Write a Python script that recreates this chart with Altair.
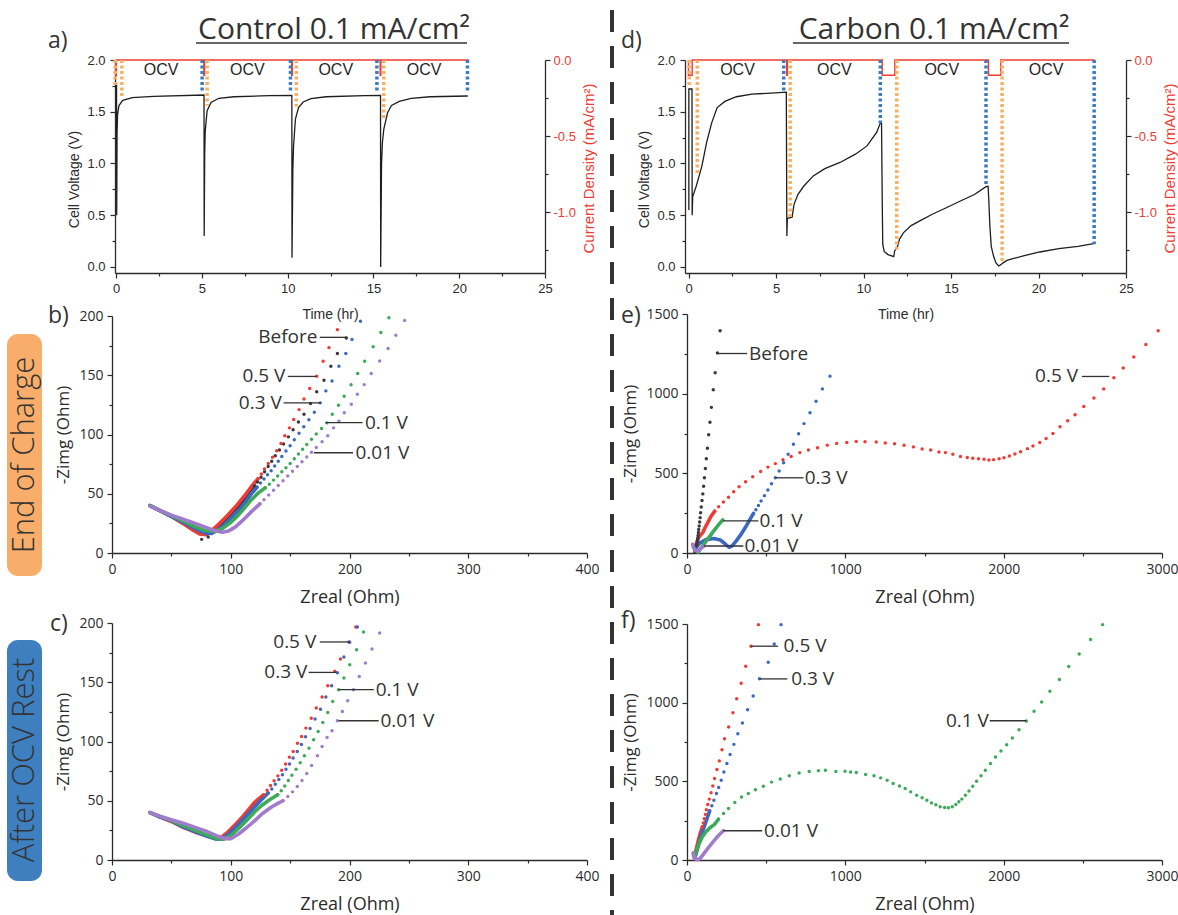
import altair as alt
import pandas as pd

# ============================================================ DATA
# ---- (a) Control 0.1 mA/cm2 : cell voltage (V) vs time (hr)
a_time = [0.02, 0.03, 0.05, 0.08, 0.16, 0.38, 0.94, 2.17, 5.12,
          5.13, 5.16, 5.19, 5.30, 5.53, 5.98, 6.87, 8.89, 10.24,
          10.25, 10.30, 10.34, 10.45, 10.63, 10.90, 11.35, 12.24, 14.48, 15.41,
          15.42, 15.47, 15.52, 15.60, 15.82, 16.05, 16.50, 17.20, 18.30, 20.50]
a_volt = [1.78, 0.50, 1.30, 1.47, 1.56, 1.61, 1.636, 1.649, 1.662,
          0.30, 1.10, 1.31, 1.51, 1.59, 1.63, 1.645, 1.655, 1.658,
          0.09, 0.95, 1.17, 1.43, 1.54, 1.594, 1.626, 1.645, 1.655, 1.658,
          0.00, 1.00, 1.20, 1.33, 1.49, 1.56, 1.60, 1.63, 1.645, 1.652]
a_cur_time = [-0.03, -0.03, 0.01, 0.01, 5.11, 5.11, 5.15, 5.15, 10.23, 10.23,
              10.27, 10.27, 15.39, 15.39, 15.43, 15.43, 20.55]
a_cur = [0, -0.1, -0.1, 0, 0, -0.1, -0.1, 0, 0, -0.1, -0.1, 0, 0, -0.1, -0.1, 0, 0]
a_blue_time = [5.01, 10.16, 15.20, 20.48]
a_blue_volt = [1.68, 1.68, 1.68, 1.68]
a_orange_time = [-0.06, 0.33, 5.30, 10.50, 15.60]
a_orange_volt = [1.75, 1.63, 1.56, 1.55, 1.42]
a_ocv_time = [2.62, 7.65, 12.80, 17.95]

# ---- (d) Carbon 0.1 mA/cm2
d_time = [0.02, 0.02, 0.20, 0.21, 0.24, 0.44, 0.77, 1.03, 1.32, 1.64, 2.08, 2.74, 3.62, 4.71, 5.59,
          5.62, 5.65, 5.92, 6.03, 6.25, 6.58, 7.13, 7.79, 8.66, 9.54, 10.20, 10.75, 10.96, 11.03,
          11.07, 11.10, 11.18, 11.40, 11.73, 11.78, 11.95, 12.06, 12.28, 12.72, 13.27, 13.93,
          14.70, 15.57, 16.34, 17.00, 17.12,
          17.16, 17.22, 17.30, 17.43, 17.57, 17.72, 17.83, 17.98, 18.20, 18.53, 19.19, 20.07,
          21.16, 22.26, 23.14]
d_volt = [0.55, 1.72, 1.72, 0.50, 0.68, 0.78, 0.98, 1.20, 1.39, 1.54, 1.60, 1.645, 1.67, 1.68, 1.69,
          0.30, 0.47, 0.48, 0.605, 0.70, 0.78, 0.88, 0.95, 1.01, 1.09, 1.17, 1.30, 1.39, 1.39,
          0.65, 0.22, 0.15, 0.12, 0.10, 0.155, 0.20, 0.27, 0.33, 0.40, 0.45, 0.51,
          0.57, 0.64, 0.70, 0.776, 0.78,
          0.65, 0.40, 0.20, 0.106, 0.04, 0.01, 0.02, 0.04, 0.064, 0.08, 0.11, 0.145,
          0.177, 0.20, 0.225]
d_cur_time = [0.0, 0.0, 0.21, 0.21, 5.61, 5.61, 5.65, 5.65, 11.07, 11.07, 11.79, 11.79,
              17.14, 17.14, 17.84, 17.84, 23.20]
d_cur = [0, -0.1, -0.1, 0, 0, -0.1, -0.1, 0, 0, -0.1, -0.1, 0, 0, -0.1, -0.1, 0, 0]
d_blue_time = [5.44, 10.96, 17.00, 23.18]
d_blue_volt = [1.69, 1.39, 0.78, 0.22]
d_orange_time = [0.04, 0.50, 5.81, 11.90, 17.92]
d_orange_volt = [1.75, 0.90, 0.48, 0.17, 0.04]
d_ocv_time = [2.80, 8.33, 14.47, 20.44]

# ---- (b) Control, end of charge : Nyquist (Zreal, -Zimg) in Ohm
b_before_x = [197.3, 189.8, 184.3, 178.5, 172.4, 167.2, 161.7, 157.0, 152.5, 148.5, 144.5, 141.0,
              137.5, 134.5, 131.5, 128.5, 125.5, 122.5, 120.0, 81.0, 75.5]
b_before_y = [181.5, 168.3, 157.6, 145.8, 136.0, 126.1, 117.1, 110.5, 104.0, 98.0, 92.0, 87.0,
              82.0, 77.5, 73.0, 68.5, 64.0, 60.0, 56.5, 13.5, 11.5]
b_05_x = [189.8, 182.7, 177.8, 172.4, 166.5, 161.7, 157.5, 153.0, 149.4, 145.5, 142.3, 138.7,
          135.2, 131.6, 128.4, 125.8, 122.9]
b_05_y = [188.5, 173.3, 161.8, 149.2, 138.8, 130.0, 121.0, 112.6, 105.6, 98.9, 92.4, 86.2,
          80.9, 75.6, 70.8, 66.6, 62.6]
b_03_x = [209.2, 202.1, 196.9, 191.1, 185.3, 180.1, 175.3, 170.4, 165.8, 161.5, 157.5, 153.5,
          150.0, 146.5, 143.0, 140.0, 137.0, 134.0, 131.0, 128.0, 125.0, 122.0]
b_03_y = [195.5, 180.1, 168.3, 157.6, 145.2, 136.8, 126.7, 118.8, 112.5, 106.5, 101.0, 95.5,
          90.5, 86.0, 81.5, 77.5, 73.5, 69.5, 66.0, 62.5, 59.0, 55.5]
b_01_x = [233.2, 226.4, 219.9, 212.8, 206.9, 201.3, 195.5, 190.7, 185.5, 180.9, 176.5, 172.0,
          168.0, 164.0, 160.5, 157.0, 153.5, 150.0, 146.5, 143.0, 139.5, 136.0, 132.5, 129.0]
b_01_y = [198.6, 186.0, 174.0, 161.8, 151.4, 142.0, 132.3, 124.7, 117.0, 109.8, 105.0, 100.5,
          96.0, 91.5, 87.5, 83.5, 79.5, 75.5, 72.0, 68.5, 65.0, 61.5, 58.0, 55.0]
b_001_x = [246.4, 239.0, 232.5, 225.4, 218.3, 212.4, 206.6, 201.5, 195.6, 191.1, 186.6, 181.7,
           176.9, 172.0, 168.0, 164.0, 160.0, 156.0, 152.0, 148.0, 144.0, 140.0, 136.0, 132.0,
           128.0, 124.5]
b_001_y = [196.3, 183.7, 172.5, 162.1, 151.4, 142.1, 134.0, 125.6, 118.3, 111.2, 105.6, 98.9,
           93.8, 89.0, 85.0, 81.0, 77.0, 73.0, 69.0, 65.0, 61.0, 57.0, 53.0, 49.0, 45.0, 41.5]
# dense (high-frequency) part of each spectrum
b_before_dense_x = [32, 40, 50, 60, 68, 74, 80, 86, 93, 100, 107, 114, 120]
b_before_dense_y = [40, 36, 31, 25, 20, 16.5, 16, 20, 26, 33, 40.5, 49, 56.5]
b_05_dense_x = [32, 40, 50, 60, 68, 74, 79, 84, 90, 97, 104, 111, 117, 122.9]
b_05_dense_y = [40, 36, 31, 25, 19.5, 16, 15.5, 19, 24.5, 31.5, 39, 47.5, 55.5, 62.6]
b_03_dense_x = [32, 40, 50, 60, 70, 78, 84, 90, 97, 104, 111, 117, 122]
b_03_dense_y = [40, 36, 31, 26, 20.5, 17, 16.5, 20, 26, 33, 41, 49.5, 55.5]
b_01_dense_x = [32, 40, 50, 60, 70, 78, 86, 92, 99, 106, 112, 117.4, 123, 129]
b_01_dense_y = [40, 36, 31.5, 27, 22, 19, 18.3, 20, 25, 31.5, 38.5, 45, 50.5, 55]
b_001_dense_x = [32, 40, 50, 60, 70, 78, 86, 93, 98, 104, 110, 117, 124.5]
b_001_dense_y = [39.5, 36, 32, 28.5, 25, 22, 19, 17.5, 18.5, 22, 27.5, 34.5, 41.5]
b_label_text = ["Before", "0.5 V", "0.3 V", "0.1 V", "0.01 V"]
b_label_x = [173, 146, 143, 213, 205]
b_label_y = [182, 149, 126.7, 110, 84.6]
b_label_side = ["right", "right", "right", "left", "left"]
b_leader_x1 = [175, 148, 144.5, 180, 170]
b_leader_x2 = [198, 172, 176, 211, 203]

# ---- (c) Control, after OCV rest
c_05_x = [205.3, 199.5, 192.4, 187.6, 181.7, 176.9, 172.0, 167.8, 163.3, 159.7, 156.2, 152.6,
          149.4, 146.2, 142.9, 139.7, 136.5, 133.5, 130.6, 127.7]
c_05_y = [196.6, 183.9, 169.6, 159.2, 147.0, 137.5, 128.2, 119.7, 111.3, 104.2, 98.6, 91.5,
          86.8, 81.1, 75.8, 71.0, 66.8, 62.8, 58.9, 54.9]
c_03_x = [206.6, 200.2, 195.3, 189.8, 185.0, 180.1, 175.6, 171.0, 166.8, 163.0, 159.5, 156.0,
          152.5, 149.5, 146.5, 143.5, 140.5, 137.5, 134.5, 131.5]
c_03_y = [196.6, 183.7, 171.3, 158.0, 147.0, 137.5, 127.3, 118.9, 111.0, 104.0, 97.5, 91.5,
          86.0, 81.0, 76.5, 72.0, 68.0, 64.0, 60.0, 56.5]
c_01_x = [211.8, 206.0, 200.2, 195.3, 190.8, 185.9, 181.7, 177.5, 173.6, 169.8, 165.9, 162.0,
          158.5, 155.0, 151.5, 148.5, 145.5, 142.5, 139.5]
c_01_y = [192.4, 177.5, 164.8, 153.5, 143.7, 133.8, 124.5, 116.1, 108.5, 101.4, 94.4, 88.0,
          82.0, 76.5, 71.5, 67.0, 62.5, 58.5, 55.0]
c_001_x = [225.4, 218.9, 213.4, 208.2, 203.4, 198.5, 194.0, 189.8, 185.3, 181.1, 176.9, 173.0,
           168.1, 164.0, 160.0, 156.0, 152.0, 148.0, 144.0]
c_001_y = [191.5, 178.0, 166.2, 154.9, 143.7, 134.4, 125.4, 117.5, 109.0, 103.4, 95.8, 87.9,
           79.7, 73.0, 67.0, 62.0, 57.5, 53.5, 50.0]
c_05_dense_x = [32, 40, 50, 60, 70, 80, 87, 92, 97, 103, 110, 115, 120, 124, 127.7]
c_05_dense_y = [40, 36.5, 32.5, 27.5, 23.5, 20.5, 18.5, 19, 23, 29, 36.5, 42.5, 48.5, 52, 54.9]
c_03_dense_x = [32, 40, 50, 60, 70, 80, 88, 93, 99, 106, 113, 119, 125, 131.5]
c_03_dense_y = [40, 36.5, 33, 28, 24, 20, 17.5, 18, 22.5, 29.5, 37, 43.5, 50, 56.5]
c_01_dense_x = [32, 40, 50, 60, 70, 80, 88, 94, 100, 107, 114, 120, 126, 133, 139.5]
c_01_dense_y = [40, 37, 33.5, 29, 25, 21, 18, 17.5, 20.5, 27, 34, 40.5, 46, 51, 55]
c_001_dense_x = [32, 40, 50, 60, 70, 80, 88, 95, 100, 106, 113, 120, 127, 134, 140, 144]
c_001_dense_y = [40, 37, 34, 31, 27.5, 24, 20.5, 18, 18, 21.5, 27, 33, 39.5, 44.5, 48, 50]
c_label_text = ["0.5 V", "0.3 V", "0.1 V", "0.01 V"]
c_label_x = [172, 164.5, 222, 226]
c_label_y = [184, 158.3, 143.7, 117.5]
c_label_side = ["right", "right", "left", "left"]
c_leader_x1 = [175, 165.6, 190.8, 190.8]
c_leader_x2 = [200, 189, 220.5, 224.6]

# ---- (e) Carbon, end of charge
e_before_x = [209, 192, 178, 166, 154, 145, 137, 129, 122, 116, 110, 105, 100, 95, 90, 86, 83,
              80, 77, 74, 72, 70, 68, 66, 64, 62, 60]
e_before_y = [1395, 1256, 1131, 1024, 914, 820, 742, 657, 592, 531, 472, 419, 371, 329, 289,
              253, 222, 195, 170, 148, 128, 110, 94, 80, 67, 55, 45]
e_05_x = [175, 200, 230, 262, 295, 329, 370, 415, 465, 511, 558, 606, 658, 713, 767, 824, 886,
          945, 1009, 1069, 1124, 1195, 1252, 1311, 1371, 1430, 1485, 1539, 1591, 1632, 1679,
          1727, 1770, 1805, 1841, 1876, 1907, 1936, 1971, 2002, 2036, 2071, 2107, 2150, 2185,
          2228, 2268, 2311, 2356, 2404, 2451, 2506, 2570, 2632, 2696, 2755, 2822, 2898, 2976]
e_05_y = [262, 290, 320, 350, 385, 416, 447, 478, 512, 539, 561, 585, 605, 630, 646, 661, 677,
          688, 694, 700, 698, 697, 691, 685, 676, 666, 653, 647, 634, 630, 620,
          605, 600, 594, 592, 588, 584, 586, 592, 598, 609, 622, 636, 655, 672,
          693, 718, 750, 792, 830, 868, 919, 973, 1030, 1100, 1161, 1230, 1308, 1395]
e_03_x = [420, 435, 451, 468, 489, 511, 534, 558, 582, 610, 639, 672, 705, 739, 777, 815, 855, 903]
e_03_y = [248, 272, 298, 326, 360, 396, 434, 472, 515, 566, 620, 683, 748, 812, 880, 952, 1030, 1110]
e_before_dense_x = [50, 54, 58, 60]
e_before_dense_y = [8, 22, 38, 45]
e_05_dense_x = [48, 60, 75, 99, 125, 151, 175]
e_05_dense_y = [25, 62, 100, 128, 180, 229, 262]
e_03_dense_x = [50, 80, 120, 170, 210, 240, 265, 285, 310, 340, 370, 404, 420]
e_03_dense_y = [25, 62, 84, 91, 82, 58, 36, 45, 75, 115, 163, 222, 248]
e_01_dense_x = [70, 85, 110, 140, 170, 200, 226]
e_01_dense_y = [5, 25, 60, 100, 140, 178, 208]
e_001_dense_x = [35, 40, 50, 62, 75, 90, 105]
e_001_dense_y = [55, 35, 18, 12, 18, 30, 42]
e_label_text = ["Before", "0.5 V", "0.3 V", "0.1 V", "0.01 V"]
e_label_x = [392, 2470, 743, 458, 363]
e_label_y = [1252, 1108, 472, 202, 44]
e_label_side = ["left", "right", "left", "left", "left"]
e_leader_x1 = [190, 2494, 558, 226, 107]
e_leader_x2 = [380, 2667, 736, 451, 356]

# ---- (f) Carbon, after OCV rest
f_05_x = [451, 404, 371, 342, 314, 290, 263, 237, 221, 204, 189, 174, 163, 152, 141, 131, 122,
          116, 109, 103, 98]
f_05_y = [1496, 1359, 1232, 1124, 1025, 936, 845, 771, 701, 630, 575, 518, 471, 427, 387, 353,
          320, 290, 262, 236, 212]
f_03_x = [594, 551, 513, 458, 418, 383, 350, 321, 296, 272, 252, 233, 216, 200, 186, 170, 157, 143]
f_03_y = [1496, 1373, 1257, 1152, 1042, 955, 871, 803, 735, 670, 613, 560, 507, 461, 423, 380,
          345, 312]
f_01_x = [199, 231, 262, 302, 344, 387, 432, 482, 534, 589, 646, 708, 772, 830, 874, 940, 998,
          1033, 1069, 1128, 1181, 1223, 1264, 1302, 1342, 1378, 1413, 1451, 1485, 1515, 1544,
          1572, 1599, 1627, 1651, 1675, 1698, 1717, 1736, 1758, 1781, 1805, 1829, 1857, 1884,
          1917, 1948, 1983, 2019, 2055, 2097, 2143, 2192, 2240, 2292, 2352, 2411, 2477, 2549, 2625]
f_01_y = [259, 295, 327, 365, 400, 423, 446, 469, 495, 515, 535, 553, 563, 568, 570, 562, 564,
          560, 556, 543, 535, 522, 507, 486, 471, 454, 433, 412, 395, 380, 363,
          351, 338, 334, 332, 338, 353, 370, 387, 412, 439, 469, 501, 535, 570,
          613, 655, 693, 733, 775, 828, 883, 945, 1004, 1073, 1147, 1230, 1310, 1401, 1496]
f_05_dense_x = [45, 55, 68, 82, 98]
f_05_dense_y = [15, 55, 110, 165, 212]
f_03_dense_x = [50, 65, 85, 105, 125, 143]
f_03_dense_y = [15, 70, 140, 200, 260, 312]
f_01_dense_x = [50, 60, 75, 95, 120, 145, 172, 199]
f_01_dense_y = [15, 55, 100, 145, 180, 205, 225, 259]
f_001_dense_x = [38, 42, 52, 68, 85, 110, 140, 170, 200, 230]
f_001_dense_y = [45, 25, 8, 2, 12, 45, 85, 122, 157, 186]
f_label_text = ["0.5 V", "0.3 V", "0.1 V", "0.01 V"]
f_label_x = [610, 658, 1907, 487]
f_label_y = [1359, 1151, 885, 186]
f_label_side = ["left", "left", "right", "left"]
f_leader_x1 = [404, 458, 1912, 230]
f_leader_x2 = [575, 634, 2143, 475]

# ============================================================ STYLE / LAYOUT
W, H = 1178, 915
INK = "#2b2b2b"
RED = "#ef3b33"
C_BEFORE, C_05, C_03, C_01, C_001 = "#3a3a3a", "#ef3b33", "#3a68c2", "#3daa5a", "#a17ccc"
C_BLUE_DOT, C_ORANGE_DOT = "#3b7bc0", "#f9b060"
ARIAL = "Liberation Sans"
MYR = "Open Sans"

FR = {
    "a": ([115, 545], [273, 60]),
    "d": ([685, 1126], [273, 60]),
    "b": ([112, 587], [553, 316]),
    "c": ([112, 587], [860, 623]),
    "e": ([687, 1162], [553, 314]),
    "f": ([687, 1162], [860, 624]),
}


def S(dom, rng):
    return alt.Scale(domain=dom, range=rng, nice=False, zero=False)


def is_major(step):
    return f"abs(datum.value / {step} - round(datum.value / {step})) < 0.000001"


def make_axis(orient, line_pos, ticks, step, fmt, title, tx, ty, lfont, lsize, tfont, tsize,
              lcolor=INK, tcolor=INK, tangle=0, lpad=4):
    test = is_major(step)
    if orient == "left":
        offset = -line_pos
    elif orient == "right":
        offset = line_pos - W
    else:
        offset = line_pos - H
    return alt.Axis(
        orient=orient, offset=offset, values=ticks, grid=False,
        labelExpr=f"({test}) ? replace(format(datum.value, '{fmt}'), '\u2212', '-') : ''",
        tickSize={"condition": {"test": test, "value": 5}, "value": 3},
        tickWidth=1.2, tickColor=INK, domainColor=INK, domainWidth=1.3,
        labelFont=lfont, labelFontSize=lsize, labelColor=lcolor, labelPadding=lpad,
        labelFlush=False, labelOverlap=False, labelBound=False,
        title=title, titleX=tx, titleY=ty, titleAngle=tangle, titleAlign="center",
        titleBaseline="middle", titleFont=tfont, titleFontSize=tsize, titleColor=tcolor,
        titleFontWeight="normal")


def xy_frame(xs, ys, **extra):
    d = pd.DataFrame({"x": xs, "y": ys})
    d["i"] = range(len(d))
    for k, v in extra.items():
        d[k] = v
    return d


layers = []

# ------------------------------------------------ decorations (pixel placed)
one = pd.DataFrame({"k": [0]})


def deco_text(text, x, y, size, font=MYR, align="left", angle=0, weight="normal", color=INK):
    kw = dict(text=text, font=font, fontSize=size, align=align, baseline="alphabetic",
              color=color, fontWeight=weight)
    if angle:
        kw.update(angle=angle, baseline="middle")
    return alt.Chart(one).mark_text(**kw).encode(x=alt.value(x), y=alt.value(y))


layers.append(alt.Chart(one).mark_rule(color="#333333", strokeWidth=4, strokeDash=[22, 14]).encode(
    x=alt.value(612), y=alt.value(10), y2=alt.value(915)))
layers.append(alt.Chart(one).mark_rect(color="#f8ad6a", cornerRadius=11).encode(
    x=alt.value(7), x2=alt.value(42), y=alt.value(334), y2=alt.value(576)))
layers.append(alt.Chart(one).mark_rect(color="#3e7fc0", cornerRadius=11).encode(
    x=alt.value(7), x2=alt.value(42), y=alt.value(640), y2=alt.value(881)))
layers.append(deco_text("End of Charge", 25, 455, 31, align="center", angle=270, weight=300, color="#333333"))
layers.append(deco_text("After OCV Rest", 25, 760, 31, align="center", angle=270, weight=300, color="#333333"))
layers.append(deco_text("Control 0.1 mA/cm\u00b2", 334, 39, 30, align="center", color="#333333"))
layers.append(deco_text("Carbon 0.1 mA/cm\u00b2", 934, 39, 30, align="center", color="#333333"))
layers.append(alt.Chart(one).mark_rule(color="#333333", strokeWidth=1.6).encode(
    x=alt.value(196), x2=alt.value(467), y=alt.value(43)))
layers.append(alt.Chart(one).mark_rule(color="#333333", strokeWidth=1.6).encode(
    x=alt.value(793), x2=alt.value(1069), y=alt.value(43)))
for lab, lx, ly in [("a)", 48, 48), ("d)", 621, 48), ("b)", 48, 323), ("e)", 621, 323),
                    ("c)", 50, 631), ("f)", 621, 628)]:
    layers.append(deco_text(lab, lx, ly, 23, color="#333333"))


# ------------------------------------------------ time panels (a, d)
def time_panel(key, t, v, ct, cj, bt, bv, ot, ov, ocv_t):
    fx, fy = FR[key]
    xdom = [-0.07, 25] if key == "a" else [-0.2, 25]
    xs = S(xdom, fx)
    ys = S([-0.058, 2.0], fy)
    ys2 = S([-1.40, 0.0], fy)
    xaxis = make_axis("bottom", fy[0], [i * 2.5 for i in range(11)], 5, "d", "Time (hr)",
                      (fx[0] + fx[1]) / 2, 41, ARIAL, 13, ARIAL, 14)
    yaxis = make_axis("left", fx[0], [i * 0.25 for i in range(9)], 0.5, ".1f", "Cell Voltage (V)",
                      -41, 179, ARIAL, 13, ARIAL, 14, tangle=270, lpad=5)
    raxis = make_axis("right", fx[1], [-i * 0.25 for i in range(6)], 0.5, ".1f",
                      "Current Density (mA/cm\u00b2)", 43, 168, ARIAL, 13, ARIAL, 15,
                      lcolor=RED, tcolor=RED, tangle=270, lpad=3)
    out = []
    out.append(alt.Chart(xy_frame(t, v)).mark_line(color="#1e1e1e", strokeWidth=1.3).encode(
        x=alt.X("x:Q", scale=xs, axis=xaxis), y=alt.Y("y:Q", scale=ys, axis=yaxis),
        order=alt.Order("i:Q")))
    out.append(alt.Chart(xy_frame(ct, cj)).mark_line(color=RED, strokeWidth=1.4).encode(
        x=alt.X("x:Q", scale=xs, axis=None), y=alt.Y("y:Q", scale=ys2, axis=raxis),
        order=alt.Order("i:Q")))
    for tt, vv, col in [(ot, ov, C_ORANGE_DOT), (bt, bv, C_BLUE_DOT)]:
        dfd = xy_frame(tt, vv, top=2.0)
        out.append(alt.Chart(dfd).mark_rule(color=col, strokeWidth=3.5, strokeDash=[3, 2.5]).encode(
            x=alt.X("x:Q", scale=xs, axis=None), y=alt.Y("top:Q", scale=ys, axis=None),
            y2="y:Q"))
    dfo = xy_frame(ocv_t, [1.90] * len(ocv_t), lab="OCV")
    out.append(alt.Chart(dfo).mark_text(font=ARIAL, fontSize=16, color="#262626",
                                        baseline="middle").encode(
        x=alt.X("x:Q", scale=xs, axis=None), y=alt.Y("y:Q", scale=ys, axis=None), text="lab:N"))
    return out


layers += time_panel("a", a_time, a_volt, a_cur_time, a_cur, a_blue_time, a_blue_volt,
                     a_orange_time, a_orange_volt, a_ocv_time)
layers += time_panel("d", d_time, d_volt, d_cur_time, d_cur, d_blue_time, d_blue_volt,
                     d_orange_time, d_orange_volt, d_ocv_time)


# ------------------------------------------------ EIS panels (b, c, e, f)
def eis_panel(key, xmax, ymax, xstep, ystep, dense, dots, ltext, lx, ly, lside, lx1, lx2, tx_left):
    fx, fy = FR[key]
    xs = S([0, xmax], fx)
    ys = S([0, ymax], fy)
    xaxis = make_axis("bottom", fy[0], [xstep / 2 * i for i in range(9 if xmax == 400 else 7)],
                      xstep, "d", "Zreal (Ohm)", (fx[0] + fx[1]) / 2, 44, MYR, 14, MYR, 18, lpad=4)
    yaxis = make_axis("left", fx[0], [ystep / 2 * i for i in range(9 if ymax == 200 else 7)],
                      ystep, "d", "-Zimg (Ohm)", tx_left, (fy[0] + fy[1]) / 2, MYR, 14, MYR, 17,
                      tangle=270, lpad=4)
    out = []
    for xx, yy, col in dense:
        out.append(alt.Chart(xy_frame(xx, yy)).mark_line(
            color=col, strokeWidth=3.6, strokeCap="round", strokeJoin="round").encode(
            x=alt.X("x:Q", scale=xs, axis=None), y=alt.Y("y:Q", scale=ys, axis=None),
            order=alt.Order("i:Q")))
    frames = []
    for xx, yy, col in dots:
        frames.append(xy_frame(xx, yy, c=col))
    dfp = pd.concat(frames, ignore_index=True)
    out.append(alt.Chart(dfp).mark_circle(size=12, opacity=1).encode(
        x=alt.X("x:Q", scale=xs, axis=xaxis), y=alt.Y("y:Q", scale=ys, axis=yaxis),
        color=alt.Color("c:N", scale=None)))
    dfl = pd.DataFrame({"x1": lx1, "x2": lx2, "y": ly})
    out.append(alt.Chart(dfl).mark_rule(color="#333333", strokeWidth=1.3).encode(
        x=alt.X("x1:Q", scale=xs, axis=None), x2="x2:Q", y=alt.Y("y:Q", scale=ys, axis=None)))
    dft = pd.DataFrame({"x": lx, "y": ly, "t": ltext, "side": lside})
    for side in ["left", "right"]:
        sub = dft[dft["side"] == side]
        if len(sub) == 0:
            continue
        out.append(alt.Chart(sub).mark_text(font=MYR, fontSize=19, color="#333333",
                                            align=side, baseline="middle").encode(
            x=alt.X("x:Q", scale=xs, axis=None), y=alt.Y("y:Q", scale=ys, axis=None),
            text="t:N"))
    return out


layers += eis_panel(
    "b", 400, 200, 100, 50,
    [(b_before_dense_x, b_before_dense_y, C_BEFORE), (b_05_dense_x, b_05_dense_y, C_05),
     (b_03_dense_x, b_03_dense_y, C_03), (b_01_dense_x, b_01_dense_y, C_01),
     (b_001_dense_x, b_001_dense_y, C_001)],
    [(b_before_x, b_before_y, C_BEFORE), (b_05_x, b_05_y, C_05), (b_03_x, b_03_y, C_03),
     (b_01_x, b_01_y, C_01), (b_001_x, b_001_y, C_001)],
    b_label_text, b_label_x, b_label_y, b_label_side, b_leader_x1, b_leader_x2, -49)

layers += eis_panel(
    "c", 400, 200, 100, 50,
    [(c_05_dense_x, c_05_dense_y, C_05), (c_03_dense_x, c_03_dense_y, C_03),
     (c_01_dense_x, c_01_dense_y, C_01), (c_001_dense_x, c_001_dense_y, C_001)],
    [(c_05_x, c_05_y, C_05), (c_03_x, c_03_y, C_03), (c_01_x, c_01_y, C_01),
     (c_001_x, c_001_y, C_001)],
    c_label_text, c_label_x, c_label_y, c_label_side, c_leader_x1, c_leader_x2, -49)

layers += eis_panel(
    "e", 3000, 1500, 1000, 500,
    [(e_before_dense_x, e_before_dense_y, C_BEFORE), (e_05_dense_x, e_05_dense_y, C_05),
     (e_03_dense_x, e_03_dense_y, C_03), (e_01_dense_x, e_01_dense_y, C_01),
     (e_001_dense_x, e_001_dense_y, C_001)],
    [(e_before_x, e_before_y, C_BEFORE), (e_05_x, e_05_y, C_05), (e_03_x, e_03_y, C_03)],
    e_label_text, e_label_x, e_label_y, e_label_side, e_leader_x1, e_leader_x2, -57)

layers += eis_panel(
    "f", 3000, 1500, 1000, 500,
    [(f_05_dense_x, f_05_dense_y, C_05), (f_03_dense_x, f_03_dense_y, C_03),
     (f_01_dense_x, f_01_dense_y, C_01), (f_001_dense_x, f_001_dense_y, C_001)],
    [(f_05_x, f_05_y, C_05), (f_03_x, f_03_y, C_03), (f_01_x, f_01_y, C_01)],
    f_label_text, f_label_x, f_label_y, f_label_side, f_leader_x1, f_leader_x2, -57)

chart = alt.layer(*layers).resolve_scale(
    x="independent", y="independent", color="independent"
).resolve_axis(x="independent", y="independent").properties(
    width=W, height=H, padding=0, background="white",
    autosize=alt.AutoSizeParams(type="none"),
).configure_view(stroke=None)

chart.save("out.html", embed_options={"renderer": "svg", "actions": False})
